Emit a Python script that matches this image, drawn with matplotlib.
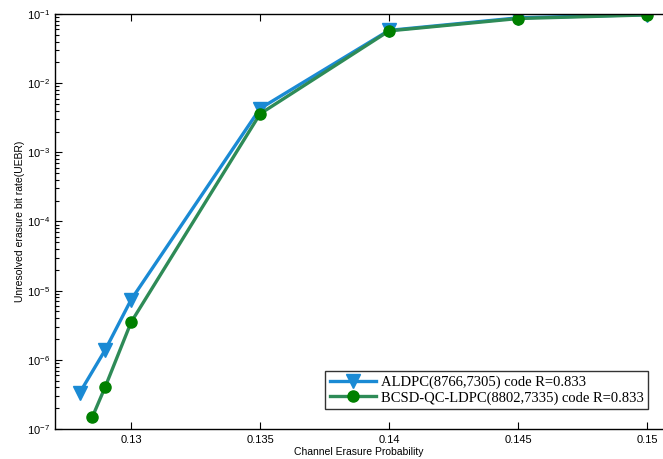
import matplotlib
matplotlib.use('Agg')
import matplotlib.pyplot as plt
import numpy as np

plt.rcParams['font.family'] = ['Liberation Sans', 'DejaVu Sans']
plt.rcParams['mathtext.default'] = 'regular'

# channel erasure probability
x_aldpc = [0.128, 0.129, 0.13, 0.135, 0.14, 0.145, 0.15]
y_aldpc = [3.3e-7, 1.4e-6, 7.4e-6, 4.3e-3, 0.058, 0.088, 0.098]

x_bcsd = [0.1285, 0.129, 0.13, 0.135, 0.14, 0.145, 0.15]
y_bcsd = [1.5e-7, 4.1e-7, 3.5e-6, 3.6e-3, 0.057, 0.086, 0.097]

x_ticks = [0.13, 0.135, 0.14, 0.145, 0.15]
x_ticklabels = ['0.13', '0.135', '0.14', '0.145', '0.15']

label_aldpc = 'ALDPC(8766,7305) code R=0.833'
label_bcsd = 'BCSD-QC-LDPC(8802,7335) code R=0.833'

fig = plt.figure(figsize=(6.63, 4.59), dpi=100)
ax = fig.add_axes([0.083, 0.0654, 0.917, 0.9041])

ax.semilogy(x_aldpc, y_aldpc, '-', color='#1a8ad4', lw=2.4, marker='v',
            markersize=10, markerfacecolor='#1a8ad4', markeredgecolor='#1a8ad4',
            label=label_aldpc)
ax.semilogy(x_bcsd, y_bcsd, '-', color='#2e8b57', lw=2.4, marker='o',
            markersize=8, markerfacecolor='#008000', markeredgecolor='#008000',
            label=label_bcsd)

ax.set_xlim(0.12705, 0.15062)
ax.set_ylim(1e-7, 1e-1)
ax.set_xticks(x_ticks)
ax.set_xticklabels(x_ticklabels)
ax.tick_params(axis='both', which='both', direction='in', labelsize=8,
               top=True, right=False, width=0.8)
ax.tick_params(axis='both', which='major', length=5)
ax.tick_params(axis='both', which='minor', length=3)
ax.tick_params(axis='x', pad=4)
ax.spines['right'].set_visible(False)
for s in ['left', 'bottom', 'top']:
    ax.spines[s].set_linewidth(1.0)

ax.set_xlabel('Channel Erasure Probability', fontsize=7.5, labelpad=1.5)
ax.set_ylabel('Unresolved erasure bit rate(UEBR)', fontsize=7.5, labelpad=1.5)

leg = ax.legend(loc='lower right', bbox_to_anchor=(0.975, 0.048),
                prop={'family': 'Liberation Serif', 'size': 10.5},
                frameon=True, fancybox=False, edgecolor='black',
                handlelength=3.2, borderpad=0.3, labelspacing=0.15,
                handletextpad=0.3, borderaxespad=0)
leg.get_frame().set_linewidth(1.0)

fig.savefig('out.png', dpi=100)
